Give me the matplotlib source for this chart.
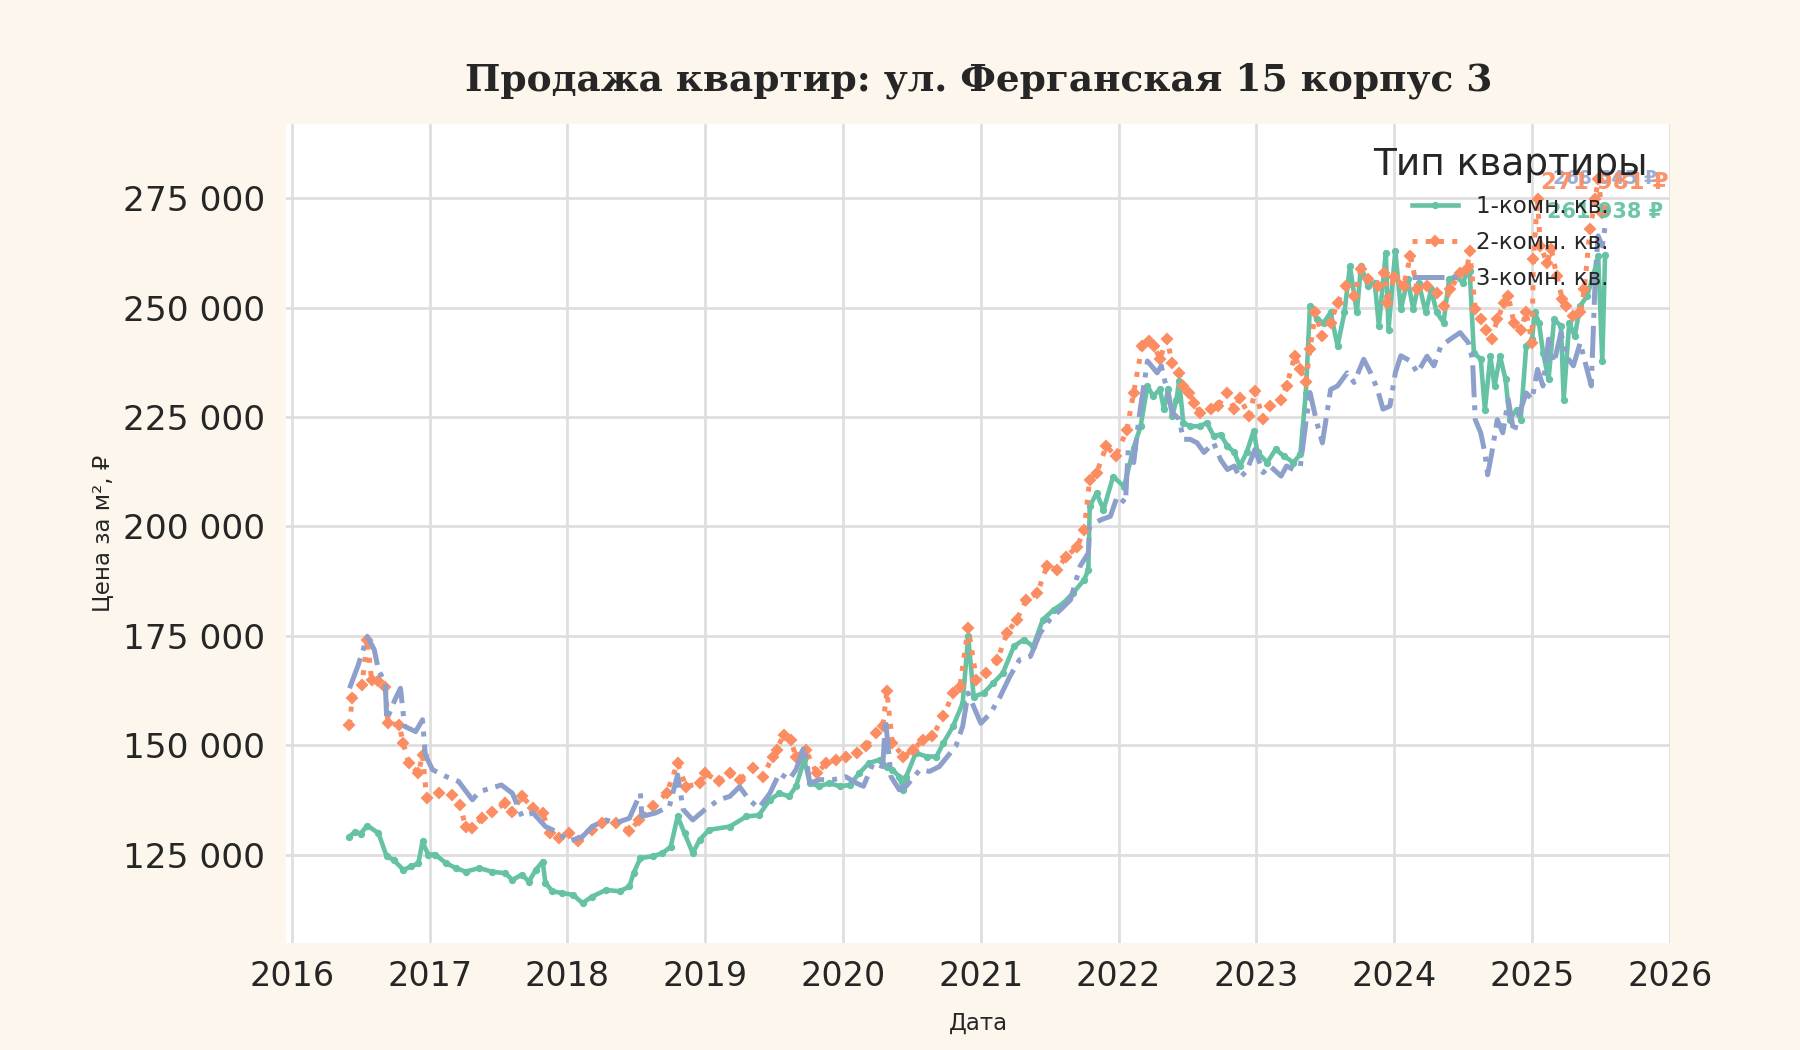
import matplotlib
matplotlib.use("Agg")
import matplotlib.pyplot as plt
import matplotlib.dates as mdates
from matplotlib.ticker import FuncFormatter, MultipleLocator
import pandas as pd

# ---------------- data (decimal years, price per m2) ----------------
years_1 = [2016.42, 2016.46, 2016.50, 2016.55, 2016.63, 2016.69, 2016.74, 2016.81, 2016.87, 2016.92,
           2016.95, 2016.99, 2017.04, 2017.12, 2017.19, 2017.26, 2017.36, 2017.45, 2017.55, 2017.60,
           2017.67, 2017.72, 2017.77, 2017.82, 2017.84, 2017.89, 2017.96, 2018.04, 2018.11, 2018.18,
           2018.28, 2018.38, 2018.45, 2018.48, 2018.53, 2018.62, 2018.69, 2018.75, 2018.80, 2018.85,
           2018.91, 2018.96, 2019.03, 2019.18, 2019.30, 2019.39, 2019.47, 2019.54, 2019.61, 2019.66,
           2019.72, 2019.76, 2019.83, 2019.90, 2019.98, 2020.05, 2020.12, 2020.19, 2020.27, 2020.32,
           2020.36, 2020.41, 2020.44, 2020.46, 2020.53, 2020.61, 2020.68, 2020.73, 2020.80, 2020.87,
           2020.91, 2020.95, 2021.02, 2021.09, 2021.16, 2021.24, 2021.31, 2021.38, 2021.45, 2021.53,
           2021.60, 2021.67, 2021.75, 2021.78, 2021.79, 2021.84, 2021.89, 2021.96, 2022.04, 2022.11,
           2022.16, 2022.21, 2022.25, 2022.30, 2022.33, 2022.36, 2022.39, 2022.42, 2022.44, 2022.47,
           2022.52, 2022.59, 2022.64, 2022.69, 2022.74, 2022.79, 2022.84, 2022.88, 2022.93, 2022.98,
           2023.01, 2023.08, 2023.14, 2023.20, 2023.27, 2023.32, 2023.36, 2023.39, 2023.44, 2023.49,
           2023.54, 2023.59, 2023.64, 2023.68, 2023.73, 2023.76, 2023.81, 2023.86, 2023.89, 2023.94,
           2023.96, 2024.01, 2024.05, 2024.10, 2024.14, 2024.18, 2024.23, 2024.27, 2024.31, 2024.36,
           2024.40, 2024.45, 2024.50, 2024.53, 2024.55, 2024.58, 2024.63, 2024.66, 2024.70, 2024.73,
           2024.77, 2024.81, 2024.84, 2024.89, 2024.92, 2024.96, 2025.00, 2025.02, 2025.05, 2025.08,
           2025.12, 2025.16, 2025.21, 2025.23, 2025.27, 2025.31, 2025.35, 2025.40, 2025.45, 2025.48,
           2025.51, 2025.53]
price_1 = [129100, 130200, 129800, 131600, 129900, 124550, 123800, 121500, 122300, 123000,
           128000, 125000, 125000, 123000, 121900, 121100, 121900, 121100, 120700, 119200,
           120400, 118800, 121500, 123400, 118500, 116600, 116200, 115800, 113900, 115400,
           116900, 116600, 117700, 120700, 124200, 124600, 125300, 126800, 133700, 129900,
           125300, 128400, 130650, 131400, 133700, 134000, 137500, 139000, 138300, 140600,
           146700, 141300, 140600, 141300, 140600, 140900, 143600, 145900, 146700, 145100,
           144400, 142800, 139800, 142800, 148200, 147400, 147400, 150500, 154300, 159600,
           174900, 161100, 161900, 164200, 166500, 172600, 174100, 172600, 178700, 181000,
           182500, 184800, 187800, 190100, 204600, 207600, 203800, 211400, 209100, 218000,
           222900, 232100, 229800, 231300, 226800, 231300, 225200, 229000, 233200, 223700,
           222900, 222900, 223700, 220700, 221000, 218400, 216900, 213800, 216900, 221800,
           216900, 214600, 217600, 216100, 214600, 216500, 230600, 250400, 247300, 246600,
           248900, 241200, 248900, 259500, 248900, 259500, 255000, 255700, 245800, 262600,
           245000, 263000, 249600, 256500, 249600, 255700, 248900, 254200, 248900, 246600,
           256500, 257200, 255700, 258000, 258400, 239700, 238200, 226700, 238900, 232100,
           238900, 233600, 224400, 226700, 224400, 241200, 242800, 248900, 246600, 239700,
           233600, 247300, 245800, 229000, 246600, 243500, 250400, 252700, 258000, 261800,
           237800, 261938]

years_2 = [2016.42, 2016.44, 2016.51, 2016.55, 2016.58, 2016.63, 2016.68, 2016.70, 2016.78, 2016.81,
           2016.85, 2016.92, 2016.95, 2016.98, 2017.07, 2017.16, 2017.22, 2017.26, 2017.31, 2017.38,
           2017.45, 2017.55, 2017.60, 2017.67, 2017.75, 2017.82, 2017.87, 2017.94, 2018.01, 2018.08,
           2018.18, 2018.25, 2018.35, 2018.45, 2018.52, 2018.62, 2018.72, 2018.80, 2018.86, 2018.96,
           2019.00, 2019.10, 2019.18, 2019.25, 2019.35, 2019.42, 2019.49, 2019.52, 2019.57, 2019.62,
           2019.66, 2019.73, 2019.81, 2019.88, 2019.95, 2020.02, 2020.10, 2020.17, 2020.24, 2020.29,
           2020.32, 2020.36, 2020.44, 2020.51, 2020.58, 2020.65, 2020.73, 2020.80, 2020.85, 2020.91,
           2020.97, 2021.04, 2021.12, 2021.19, 2021.26, 2021.33, 2021.41, 2021.48, 2021.55, 2021.62,
           2021.70, 2021.75, 2021.79, 2021.84, 2021.91, 2021.98, 2022.06, 2022.11, 2022.17, 2022.22,
           2022.26, 2022.30, 2022.35, 2022.39, 2022.44, 2022.47, 2022.51, 2022.55, 2022.59, 2022.67,
           2022.72, 2022.79, 2022.84, 2022.88, 2022.95, 2022.99, 2023.05, 2023.10, 2023.18, 2023.22,
           2023.28, 2023.32, 2023.36, 2023.39, 2023.43, 2023.48, 2023.54, 2023.59, 2023.65, 2023.71,
           2023.76, 2023.81, 2023.88, 2023.93, 2023.95, 2024.00, 2024.07, 2024.12, 2024.17, 2024.24,
           2024.31, 2024.36, 2024.41, 2024.48, 2024.53, 2024.55, 2024.59, 2024.63, 2024.67, 2024.71,
           2024.75, 2024.80, 2024.83, 2024.87, 2024.92, 2024.96, 2025.00, 2025.01, 2025.04, 2025.06,
           2025.11, 2025.14, 2025.18, 2025.22, 2025.25, 2025.30, 2025.35, 2025.38, 2025.42, 2025.46,
           2025.48, 2025.51, 2025.53]
price_2 = [154650, 160750, 163800, 174000, 165000, 164600, 163400, 155000, 154650, 150500,
           145900, 143600, 147800, 137900, 139000, 138700, 136400, 131400, 131000, 133300,
           134800, 136700, 134800, 138300, 135600, 134500, 129900, 128700, 129900, 128000,
           130650, 132200, 132200, 130300, 132900, 136000, 139000, 145900, 140500, 141300,
           143600, 141700, 143600, 142100, 144800, 142800, 147400, 149000, 152400, 151200,
           147400, 148900, 143600, 145900, 146700, 147400, 148200, 149700, 152800, 154300,
           162300, 150500, 147400, 148900, 151200, 152000, 156600, 161900, 163400, 176800,
           165000, 166500, 169500, 175600, 178700, 183200, 184800, 190900, 190100, 193100,
           195400, 199200, 210700, 212200, 218300, 216100, 222000, 230600, 241200, 242400,
           241200, 238200, 242800, 237400, 235100, 232100, 230600, 228300, 226000, 226800,
           227500, 230600, 226800, 229400, 225200, 231000, 224500, 227500, 229000, 232100,
           239000, 235900, 232900, 240500, 248900, 243500, 246600, 251100, 255000, 252700,
           258800, 256500, 255000, 258000, 251100, 257000, 255000, 261800, 254200, 255000,
           253400, 250400, 254200, 258000, 258800, 263000, 249600, 247300, 245000, 242800,
           247300, 251100, 252700, 246600, 245000, 248900, 242000, 261100, 274800, 264100,
           260300, 263400, 257200, 251900, 250400, 248100, 248900, 254200, 267900, 274800,
           279400, 271700, 271981]

years_3 = [2016.42, 2016.48, 2016.55, 2016.60, 2016.63, 2016.68, 2016.69, 2016.75, 2016.79, 2016.82,
           2016.90, 2016.95, 2016.97, 2017.02, 2017.12, 2017.21, 2017.31, 2017.36, 2017.45, 2017.52,
           2017.60, 2017.67, 2017.75, 2017.84, 2017.94, 2018.01, 2018.11, 2018.18, 2018.28, 2018.35,
           2018.45, 2018.53, 2018.54, 2018.64, 2018.74, 2018.80, 2018.84, 2018.91, 2019.00, 2019.10,
           2019.18, 2019.25, 2019.32, 2019.39, 2019.47, 2019.54, 2019.61, 2019.66, 2019.72, 2019.76,
           2019.83, 2019.93, 2020.02, 2020.10, 2020.15, 2020.22, 2020.29, 2020.31, 2020.35, 2020.41,
           2020.46, 2020.56, 2020.63, 2020.70, 2020.78, 2020.82, 2020.87, 2020.91, 2020.95, 2021.00,
           2021.07, 2021.14, 2021.21, 2021.28, 2021.36, 2021.43, 2021.50, 2021.58, 2021.65, 2021.72,
           2021.78, 2021.79, 2021.87, 2021.94, 2021.99, 2022.05, 2022.07, 2022.11, 2022.15, 2022.21,
           2022.28, 2022.31, 2022.35, 2022.39, 2022.44, 2022.47, 2022.52, 2022.57, 2022.62, 2022.69,
           2022.74, 2022.79, 2022.84, 2022.88, 2022.93, 2022.99, 2023.05, 2023.10, 2023.18, 2023.22,
           2023.27, 2023.32, 2023.36, 2023.39, 2023.44, 2023.48, 2023.54, 2023.59, 2023.66, 2023.71,
           2023.78, 2023.83, 2023.88, 2023.92, 2023.97, 2024.01, 2024.05, 2024.12, 2024.17, 2024.24,
           2024.29, 2024.34, 2024.41, 2024.48, 2024.54, 2024.57, 2024.59, 2024.63, 2024.66, 2024.68,
           2024.71, 2024.75, 2024.79, 2024.83, 2024.87, 2024.92, 2024.96, 2025.00, 2025.04, 2025.08,
           2025.12, 2025.16, 2025.21, 2025.25, 2025.30, 2025.35, 2025.38, 2025.43, 2025.46, 2025.48,
           2025.51, 2025.53]
price_3 = [163000, 168000, 174800, 171800, 167200, 164200, 155800, 160400, 163000, 154300,
           153100, 155800, 147800, 144400, 142800, 141700, 137500, 139400, 140200, 140900,
           139000, 133700, 134500, 131400, 129900, 128000, 129100, 131400, 132900, 132200,
           133300, 139000, 133700, 134500, 136000, 143200, 135300, 132900, 135300, 137500,
           138300, 140500, 137500, 135600, 139000, 143600, 142100, 144400, 149700, 141300,
           142100, 142100, 142800, 141300, 140600, 145900, 145100, 155800, 142800, 139800,
           140600, 144400, 144000, 145100, 148200, 149700, 154300, 161900, 158800, 155000,
           157300, 161100, 165700, 169500, 170300, 175600, 178700, 181000, 183200, 190900,
           193900, 200000, 201500, 202300, 206900, 205400, 217600, 214600, 225200, 237800,
           235100, 236700, 231300, 226000, 224500, 219900, 219900, 219100, 216900, 219100,
           215300, 213000, 213800, 211100, 212700, 217600, 212300, 213800, 211500, 213800,
           213000, 213800, 223700, 230600, 223700, 219100, 231300, 232100, 235100, 232900,
           238200, 235100, 231300, 226800, 227500, 235100, 239000, 237800, 235100, 238900,
           236700, 241200, 242800, 244300, 242000, 238200, 224400, 221400, 216800, 211800,
           216800, 224400, 221400, 229000, 221400, 226700, 230500, 229000, 235900, 232100,
           242800, 237400, 244300, 238900, 236700, 242000, 238200, 232100, 258000, 266400,
           264100, 268545]

series_names = ["1-комн. кв.", "2-комн. кв.", "3-комн. кв."]
last_labels = ["261 938 ₽", "271 981 ₽", "268 545 ₽"]
label_y = [271850, 278670, 279460]

title = "Продажа квартир: ул. Ферганская 15 корпус 3"
legend_title = "Тип квартиры"
xlabel = "Дата"
ylabel = "Цена за м², ₽"
# --------------------------------------------------------------------


def to_dates(ys):
    out = []
    for y in ys:
        yr = int(y)
        out.append(pd.Timestamp(yr, 1, 1) + pd.Timedelta(days=(y - yr) * 365.25))
    return out


colors = ["#66c2a5", "#fc8d62", "#8da0cb"]
styles = [dict(linestyle="-", marker="o", markersize=2.5, linewidth=2.2),
          dict(linestyle=":", marker="D", markersize=3.5, linewidth=2.4),
          dict(linestyle="-.", marker=None, linewidth=2.4)]

BG = "#fdf6ec"
plt.rcParams["font.family"] = ["DejaVu Sans"]

fig = plt.figure(figsize=(12, 7), dpi=150, facecolor=BG)
ax = fig.add_axes([0.159, 0.102, 0.769, 0.780])
ax.set_facecolor("white")

all_years = [years_1, years_2, years_3]
all_prices = [price_1, price_2, price_3]
for ys, ps, name, c, st in zip(all_years, all_prices, series_names, colors, styles):
    ax.plot(to_dates(ys), ps, color=c, label=name, **st)

# end labels
sizes = [10, 11, 9]
order = [2, 1, 0]
for i in order:
    ax.text(to_dates([all_years[i][-1]])[0], label_y[i], last_labels[i],
            color=colors[i], fontsize=sizes[i], fontweight="bold",
            ha="center", va="center", alpha=0.95 if i != 2 else 0.85)

ax.set_xlim(to_dates([2015.96])[0], to_dates([2026.005])[0])
ax.set_ylim(104800, 292000)
ax.xaxis.set_major_locator(mdates.YearLocator())
ax.xaxis.set_major_formatter(mdates.DateFormatter("%Y"))
ax.yaxis.set_major_locator(MultipleLocator(25000))
ax.yaxis.set_major_formatter(FuncFormatter(lambda v, p: f"{v:,.0f}".replace(",", " ")))

ax.grid(True, color="#dedede", linewidth=1.3)
ax.set_axisbelow(True)
for s in ax.spines.values():
    s.set_visible(False)
ax.tick_params(axis="x", length=0, labelsize=16, colors="#262626", pad=8)
ax.tick_params(axis="y", length=0, labelsize=16.5, colors="#262626", pad=10)

ax.set_xlabel(xlabel, fontsize=11, color="#262626", labelpad=9)
ax.set_ylabel(ylabel, fontsize=11, color="#262626", labelpad=4)
ax.set_title(title, family="DejaVu Serif", fontweight="bold", fontsize=18,
             color="#262626", pad=16)

leg = ax.legend(title=legend_title, loc="upper right", frameon=False,
                fontsize=11, title_fontsize=18, handlelength=2.0,
                labelspacing=0.55, borderaxespad=0.6)
leg.get_title().set_color("#262626")
for t in leg.get_texts():
    t.set_color("#262626")

fig.savefig("out.png", dpi=150, facecolor=BG)
